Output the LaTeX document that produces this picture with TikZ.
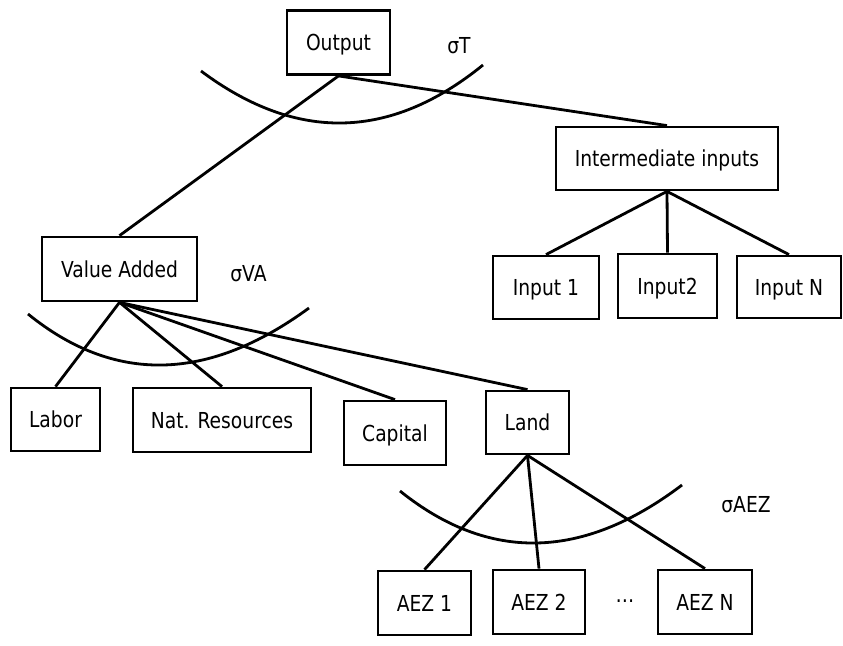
\documentclass[tikz,border=0pt]{standalone}
\usepackage{fontspec}
\setmainfont{DejaVu Sans}[FakeStretch=0.85]
\begin{document}
\begin{tikzpicture}[x=1pt,y=-1pt,
  txt/.style={font=\fontsize{22}{26}\selectfont, text height=16pt, text depth=0pt},
  box/.style={txt, draw=black, line width=2.8pt, rectangle, inner sep=0pt},
  lbl/.style={txt, inner sep=0pt},
  conn/.style={line width=2.8pt},
  arcline/.style={line width=2.8pt}]
\useasboundingbox (0,0) rectangle (843,645);
% nodes
\node[box, minimum width=103pt, minimum height=64pt] (out) at (338.5,42.5) {Output};
\node[box, minimum width=222pt, minimum height=63pt] (int) at (667,158.5) {Intermediate inputs};
\node[box, minimum width=106pt, minimum height=63pt] (in1) at (546,287.5) {Input 1};
\node[box, minimum width=99pt, minimum height=64pt] (in2) at (667.5,286) {Input2};
\node[box, minimum width=104pt, minimum height=62pt] (inN) at (789,287) {Input N};
\node[box, minimum width=155pt, minimum height=64pt] (va) at (119.5,269) {Value Added};
\node[box, minimum width=89pt, minimum height=63pt] (lab) at (55.5,419.5) {Labor};
\node[box, minimum width=178pt, minimum height=64pt] (nat) at (222,420) {Nat. Resources};
\node[box, minimum width=102pt, minimum height=64pt] (cap) at (395,433) {Capital};
\node[box, minimum width=83pt, minimum height=63pt] (land) at (527.5,422.5) {Land};
\node[box, minimum width=93pt, minimum height=64pt] (a1) at (424.5,603) {AEZ 1};
\node[box, minimum width=92pt, minimum height=64pt] (a2) at (539,602) {AEZ 2};
\node[box, minimum width=94pt, minimum height=64pt] (aN) at (705,602) {AEZ N};
% labels
\node[lbl] (sT) at (459,45) {σT};
\node[lbl] (sVA) at (248.5,273.5) {σVA};
\node[lbl] (sAEZ) at (746,504) {σAEZ};
\node[lbl] (dots) at (625,594) {…};
% connectors
\draw[conn] (out.south) -- (va.north);
\draw[conn] (out.south) -- (int.north);
\draw[conn] (int.south) -- (in1.north);
\draw[conn] (int.south) -- (in2.north);
\draw[conn] (int.south) -- (inN.north);
\draw[conn] (va.south) -- (lab.north);
\draw[conn] (va.south) -- (nat.north);
\draw[conn] (va.south) -- (cap.north);
\draw[conn] (va.south) -- (land.north);
\draw[conn] (land.south) -- (a1.north);
\draw[conn] (land.south) -- (a2.north);
\draw[conn] (land.south) -- (aN.north);
% arcs
\coordinate (tL) at (201,71);
\coordinate (tR) at (483,65);
\coordinate (vL) at (28,314);
\coordinate (vR) at (309,308);
\coordinate (lL) at (400,491);
\coordinate (lR) at (682,485);
\draw[arcline] (tL) .. controls (296.3,142.3) and (390.3,140.3) .. (tR);
\draw[arcline] (vL) .. controls (114.3,384) and (208,382) .. (vR);
\draw[arcline] (lL) .. controls (488.7,562.3) and (582.7,560.3) .. (lR);
\end{tikzpicture}
\end{document}
